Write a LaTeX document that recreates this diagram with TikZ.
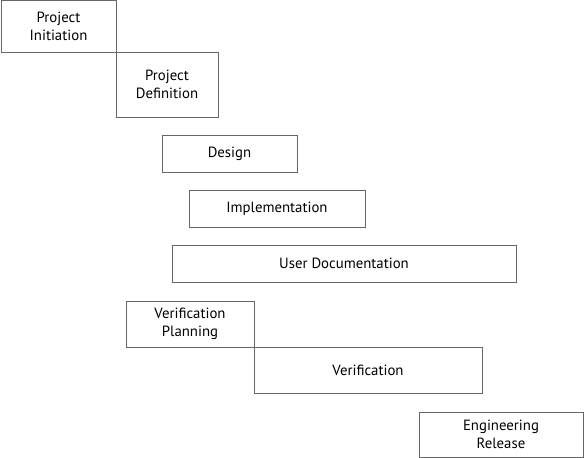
\documentclass[tikz,border=0pt]{standalone}
\usepackage{fontspec}
\setmainfont{PT Sans}
\usetikzlibrary{positioning}

\begin{document}
\begin{tikzpicture}[x=1pt, y=-1pt,
  box/.style={draw=black!60, line width=0.9pt, inner sep=0pt, align=center,
    font=\fontsize{14.8}{18}\selectfont}]
  \useasboundingbox (0,0) rectangle (584,458);
  \node[box, minimum width=115pt, minimum height=51.5pt] (init) at (58.5,26.25) {Project\\Initiation};
  \node[box, minimum width=102pt, minimum height=65pt] (def) at (167,84.5) {Project\\Definition};
  \node[box, minimum width=135pt, minimum height=37pt] (design) at (229.5,153.5) {Design};
  \node[box, minimum width=176pt, minimum height=37pt] (impl) at (277,208.5) {Implementation};
  \node[box, minimum width=344pt, minimum height=37pt] (userdoc) at (344,263.5) {User Documentation};
  \node[box, minimum width=128pt, minimum height=46pt] (vplan) at (190,324) {Verification\\Planning};
  \node[box, minimum width=228pt, minimum height=46pt] (verif) at (368,370) {Verification};
  \node[box, minimum width=164pt, minimum height=45pt] (release) at (501,434.5) {Engineering\\Release};
\end{tikzpicture}
\end{document}
